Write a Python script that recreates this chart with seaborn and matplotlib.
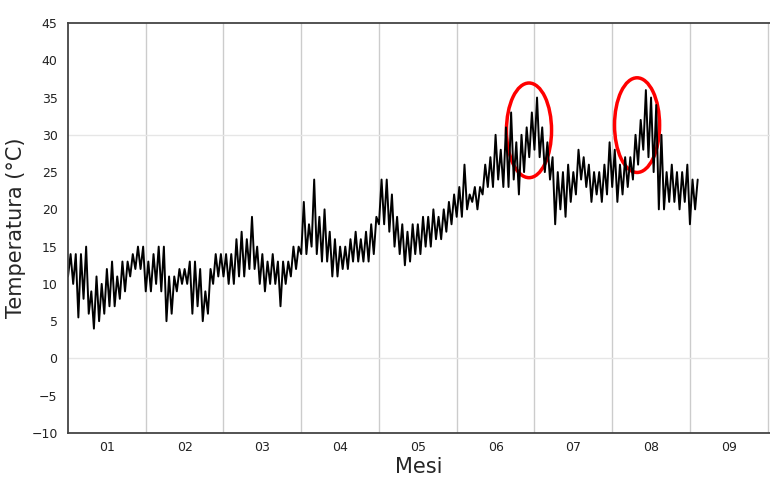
import matplotlib
matplotlib.use("Agg")
import matplotlib.pyplot as plt
from matplotlib.patches import Ellipse
import numpy as np
import pandas as pd
import seaborn as sns

# two-day low/high readings, 15 per month, Jan .. early Sep
lows = [
    11, 10, 5.5, 8, 6, 4, 5, 6, 7, 7, 8, 9, 11, 12, 12,
    9, 9, 10, 9, 5, 6, 9, 10, 10, 6, 7, 5, 6, 10, 11,
    11, 10, 10, 11, 11, 12, 12, 10, 9, 10, 10, 7, 10, 11, 12,
    14, 14, 15, 14, 13, 13, 11, 11, 12, 12, 13, 13, 13, 13, 14,
    18, 18, 17, 15, 14, 12.5, 13, 14, 14, 15, 15, 16, 16, 17, 18,
    19, 19, 20, 21, 20, 22, 23, 23, 24, 23, 23, 24, 22, 25, 27,
    28, 27, 25, 24, 18, 20, 19, 21, 22, 24, 23, 21, 22, 21, 22,
    23, 21, 22, 23, 24, 26, 28, 27, 25, 20, 20, 21, 21, 20, 21,
    18, 20,
]
highs = [
    14, 14, 14, 15, 9, 11, 10, 12, 13, 11, 13, 13, 14, 15, 15,
    13, 14, 15, 15, 11, 11, 12, 12, 13, 13, 12, 9, 12, 14, 14,
    14, 14, 16, 17, 16, 19, 15, 14, 13, 14, 13, 13, 13, 15, 15,
    21, 18, 24, 19, 20, 17, 16, 15, 15, 16, 17, 16, 17, 18, 19,
    24, 24, 22, 19, 18, 17, 18, 18, 19, 19, 20, 19, 20, 21, 22,
    23, 26, 22, 23, 23, 26, 27, 30, 28, 31, 33, 29, 30, 31, 33,
    35, 31, 29, 27, 25, 25, 26, 25, 28, 27, 26, 25, 25, 26, 29,
    28, 26, 27, 27, 30, 32, 36, 35, 34, 30, 25, 26, 25, 25, 26,
    24, 24,
]
month_labels = ["01", "02", "03", "04", "05", "06", "07", "08", "09"]
steps_per_month = 15

# interleave lows and highs into one zigzag series (x in months)
x_vals, y_vals = [], []
for i, (lo, hi) in enumerate(zip(lows, highs)):
    x_vals += [i / steps_per_month, (i + 0.5) / steps_per_month]
    y_vals += [lo, hi]
df = pd.DataFrame({"mese": x_vals, "temp": y_vals})

sns.set_style("white")
fig = plt.figure(figsize=(7.7, 4.87), dpi=100)
ax = fig.add_axes([68 / 770, 54 / 487, 702 / 770, 410 / 487])

sns.lineplot(data=df, x="mese", y="temp", sort=False, color="black", linewidth=1.4, ax=ax)

ax.set_xlim(0, 9.03)
ax.set_ylim(-10, 45)
ax.set_xticks(np.arange(0, 10))
ax.set_xticklabels([])
ax.set_xticks(np.arange(len(month_labels)) + 0.5, minor=True)
ax.set_xticklabels(month_labels, minor=True, fontsize=9, color="#222222")
ax.tick_params(axis="x", which="major", direction="out", length=6, color="#555555")
ax.tick_params(axis="x", which="minor", length=0, pad=6)
ax.set_yticks(np.arange(-10, 46, 5))
ax.set_yticklabels([f"{v}".replace("-", "\u2212") for v in range(-10, 46, 5)], fontsize=9, color="#222222")
ax.set_yticks(np.arange(-10, 46, 1), minor=True)
ax.tick_params(axis="y", which="major", direction="out", length=4, color="#555555")
ax.tick_params(axis="y", which="minor", direction="out", length=2, color="#777777")

for m in range(1, 10):
    ax.axvline(m, color="#cccccc", linewidth=1.0, zorder=0)
for v in (0, 30):
    ax.axhline(v, color="#e6e6e6", linewidth=1.0, zorder=0)

ax.spines["right"].set_visible(False)
for side in ("top", "bottom", "left"):
    ax.spines[side].set_color("#444444")
    ax.spines[side].set_linewidth(1.3)

ax.add_patch(Ellipse((5.93, 30.6), 0.58, 12.7, fill=False, edgecolor="red", linewidth=2.5))
ax.add_patch(Ellipse((7.32, 31.3), 0.58, 12.7, fill=False, edgecolor="red", linewidth=2.5))

ax.set_xlabel("Mesi", fontsize=15, labelpad=2)
ax.set_ylabel("Temperatura (°C)", fontsize=15)

fig.savefig("out.png", dpi=100)
